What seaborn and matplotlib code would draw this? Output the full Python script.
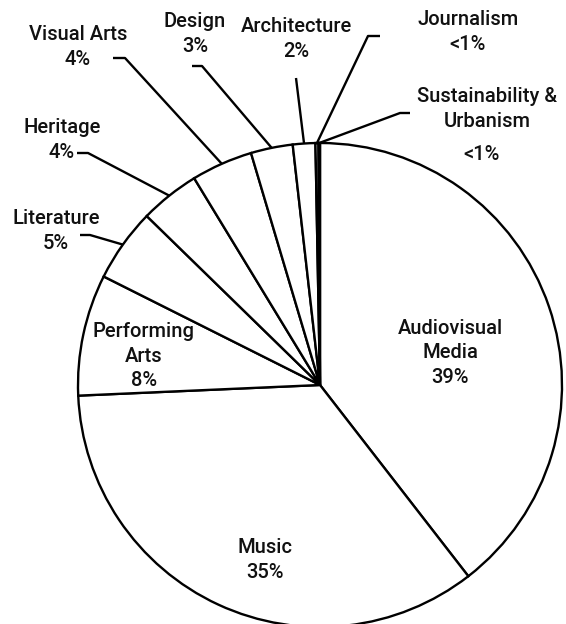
import numpy as np
import matplotlib
matplotlib.use("Agg")
import matplotlib.pyplot as plt
import seaborn as sns

# shares by sector (percent)
sectors = ["Audiovisual Media", "Music", "Performing Arts", "Literature", "Heritage",
           "Visual Arts", "Design", "Architecture", "Journalism", "Sustainability & Urbanism"]
shares = [39.5, 34.8, 8.1, 4.9, 4.0, 4.1, 2.8, 1.5, 0.2, 0.1]
share_labels = ["39%", "35%", "8%", "5%", "4%", "4%", "3%", "2%", "<1%", "<1%"]
label_names = ["Audiovisual\nMedia", "Music", "Performing\nArts", "Literature", "Heritage",
               "Visual Arts", "Design", "Architecture", "Journalism", "Sustainability &\nUrbanism"]

sns.set_style("white")
plt.rcParams["font.family"] = ["Roboto", "DejaVu Sans"]

W, H = 566, 624
fig = plt.figure(figsize=(W / 100, H / 100), dpi=100)
ax = fig.add_axes([0, 0, 1, 1])


def px(x, y):
    # pixel coords (y down) -> data coords (y up)
    return x, H - y


cx, cy = px(320, 385)
R = 242
wedges, _ = ax.pie(shares, startangle=90, counterclock=False, center=(cx, cy), radius=R,
                   colors=["white"] * len(shares),
                   wedgeprops=dict(edgecolor="black", linewidth=1.7))
ax.set_xlim(0, W)
ax.set_ylim(0, H)
ax.set_aspect("equal")
ax.axis("off")

fs = 14.5
txt = dict(ha="center", va="center", fontsize=fs, linespacing=1.35, color="#111111",
           fontweight="medium")
inside = {0: (450, 353), 1: (265, 560), 2: (144, 356)}
for i, (x, y) in inside.items():
    ax.text(*px(x, y), label_names[i] + "\n" + share_labels[i], **txt)

# outside labels: (text center, elbow, hook end)
outside = {
    3: ((56, 231), (90, 235), (80, 235)),
    4: ((62, 140), (88, 153), (77, 153)),
    5: ((78, 47), (125, 58), (113, 58)),
    6: ((195, 34), (202, 66), (192, 66)),
    7: ((296, 39), (296, 78), None),
    8: ((468, 32), (368, 36), (380, 36)),
}
for i, (tpos, elbow, hook) in outside.items():
    w = wedges[i]
    ang = np.deg2rad((w.theta1 + w.theta2) / 2)
    ex, ey = cx + R * np.cos(ang), cy + R * np.sin(ang)
    pts = [(ex, ey), px(*elbow)] + ([px(*hook)] if hook else [])
    ax.plot([p[0] for p in pts], [p[1] for p in pts], color="black", lw=1.7,
            solid_capstyle="butt")
    ax.text(*px(*tpos), label_names[i] + "\n" + share_labels[i], **txt)

# last tiny slice
w = wedges[9]
ang = np.deg2rad((w.theta1 + w.theta2) / 2)
ex, ey = cx + R * np.cos(ang), cy + R * np.sin(ang)
pts = [(ex, ey), px(400, 113), px(410, 113)]
ax.plot([p[0] for p in pts], [p[1] for p in pts], color="black", lw=1.7, solid_capstyle="butt")
ax.text(*px(487, 109), label_names[9], **txt)
ax.text(*px(482, 155), share_labels[9], **txt)

fig.savefig("out.png", dpi=100)
